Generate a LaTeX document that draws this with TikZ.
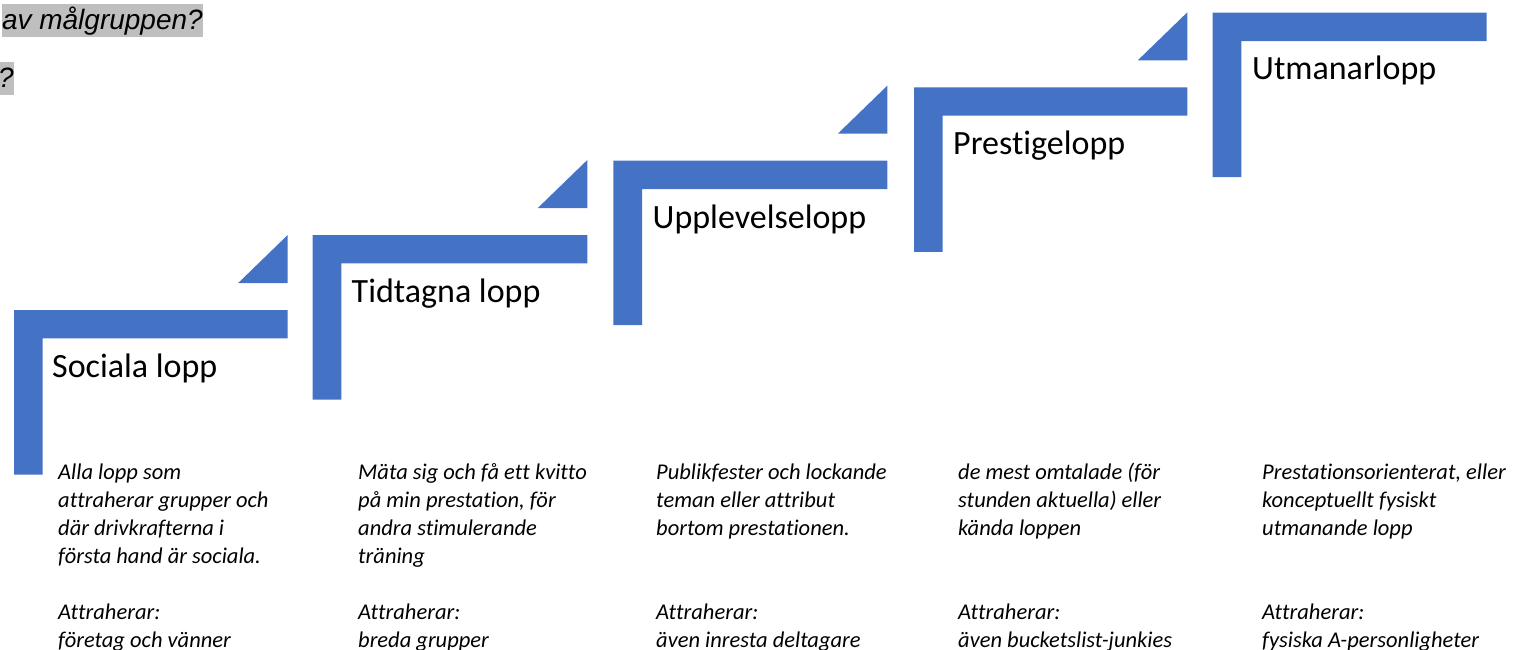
\documentclass[tikz,border=0pt]{standalone}
\usepackage{fontspec}
\setmainfont{Carlito}[Ligatures={NoCommon,NoContextual,NoRare,NoDiscretionary},RawFeature={-liga,-clig,-dlig,-rlig}]
\newfontfamily\arialfont{Liberation Sans}
\definecolor{stepblue}{HTML}{4472C4}
\definecolor{hlgray}{HTML}{BFBFBF}
\newcommand\desclines[1]{\vtop{\baselineskip=28pt\lineskiplimit=-50pt #1}}
\newcommand\nl{\kern0pt }
\begin{document}
\begin{tikzpicture}[x=1pt,y=-1pt,
  stepfill/.style={fill=stepblue, draw=none},
  heading/.style={anchor=base west, inner sep=0, font=\fontsize{34}{40}\selectfont},
  desc/.style={anchor=base west, inner sep=0, font=\fontsize{22.5}{28}\selectfont\itshape},
  hl/.style={fill=hlgray, inner sep=0, anchor=base east, font=\arialfont\fontsize{28}{32}\selectfont\itshape, text height=26pt, text depth=7pt}]
\useasboundingbox (0,0) rectangle (1516,649);
\clip (0,0) rectangle (1516,649);

% highlighted fragments at top left
\node[hl] (q1) at (203,29.5) {av målgruppen?};
\node[hl] (q2) at (14,87.5) {?};

% step shapes
\foreach \x/\y/\r in {14/310/287.7, 312.7/235/587.3, 613.3/160.7/887.3, 914/87.3/1187.3, 1212.7/12.7/1486.7}{
  \fill[stepfill] (\x,\y+164.5) -- (\x,\y) -- (\r,\y) -- (\r,\y+28.3) -- (\x+28.7,\y+28.3) -- (\x+28.7,\y+164.5) -- cycle;
}
\foreach \y/\r in {310/287.7, 235/587.3, 160.7/887.3, 87.3/1187.3}{
  \fill[stepfill] (\r,\y-75) -- (\r,\y-27) -- (\r-49.5,\y-27) -- cycle;
}

% headings
\node[heading] (h1) at (52,377) {Sociala lopp};
\node[heading] (h2) at (351.5,302.5) {Tidtagna lopp};
\node[heading] (h3) at (652.5,228) {Upplevelselopp};
\node[heading] (h4) at (953,154.3) {Prest\nl igelopp};
\node[heading] (h5) at (1252,79.7) {Utmanarlopp};

% descriptions
\node[desc] (d1) at (58,479) {\desclines{\hbox{Alla lopp som}\hbox{at\nl traherar grupper och}\hbox{där drivkraf\nl terna i}\hbox{första hand är sociala.}\hbox{}\hbox{At\nl traherar:}\hbox{företag och vänner}}};
\node[desc] (d2) at (358,479) {\desclines{\hbox{Mäta sig och få et\nl t kvit\nl to}\hbox{på min prestat\nl ion, för}\hbox{andra st\nl imulerande}\hbox{träning}\hbox{}\hbox{At\nl traherar:}\hbox{breda grupper}}};
\node[desc] (d3) at (656,479) {\desclines{\hbox{Publikfester och lockande}\hbox{teman eller at\nl tribut}\hbox{bortom prestat\nl ionen.}\hbox{}\hbox{}\hbox{At\nl traherar:}\hbox{även inresta deltagare}}};
\node[desc] (d4) at (958,479) {\desclines{\hbox{de mest omtalade (för}\hbox{stunden aktuella) eller}\hbox{kända loppen}\hbox{}\hbox{}\hbox{At\nl traherar:}\hbox{även bucketslist-junkies}}};
\node[desc] (d5) at (1262,479) {\desclines{\hbox{Prestat\nl ionsorienterat, eller}\hbox{konceptuellt fysiskt}\hbox{utmanande lopp}\hbox{}\hbox{}\hbox{At\nl traherar:}\hbox{fysiska A-personligheter}}};
\end{tikzpicture}
\end{document}
